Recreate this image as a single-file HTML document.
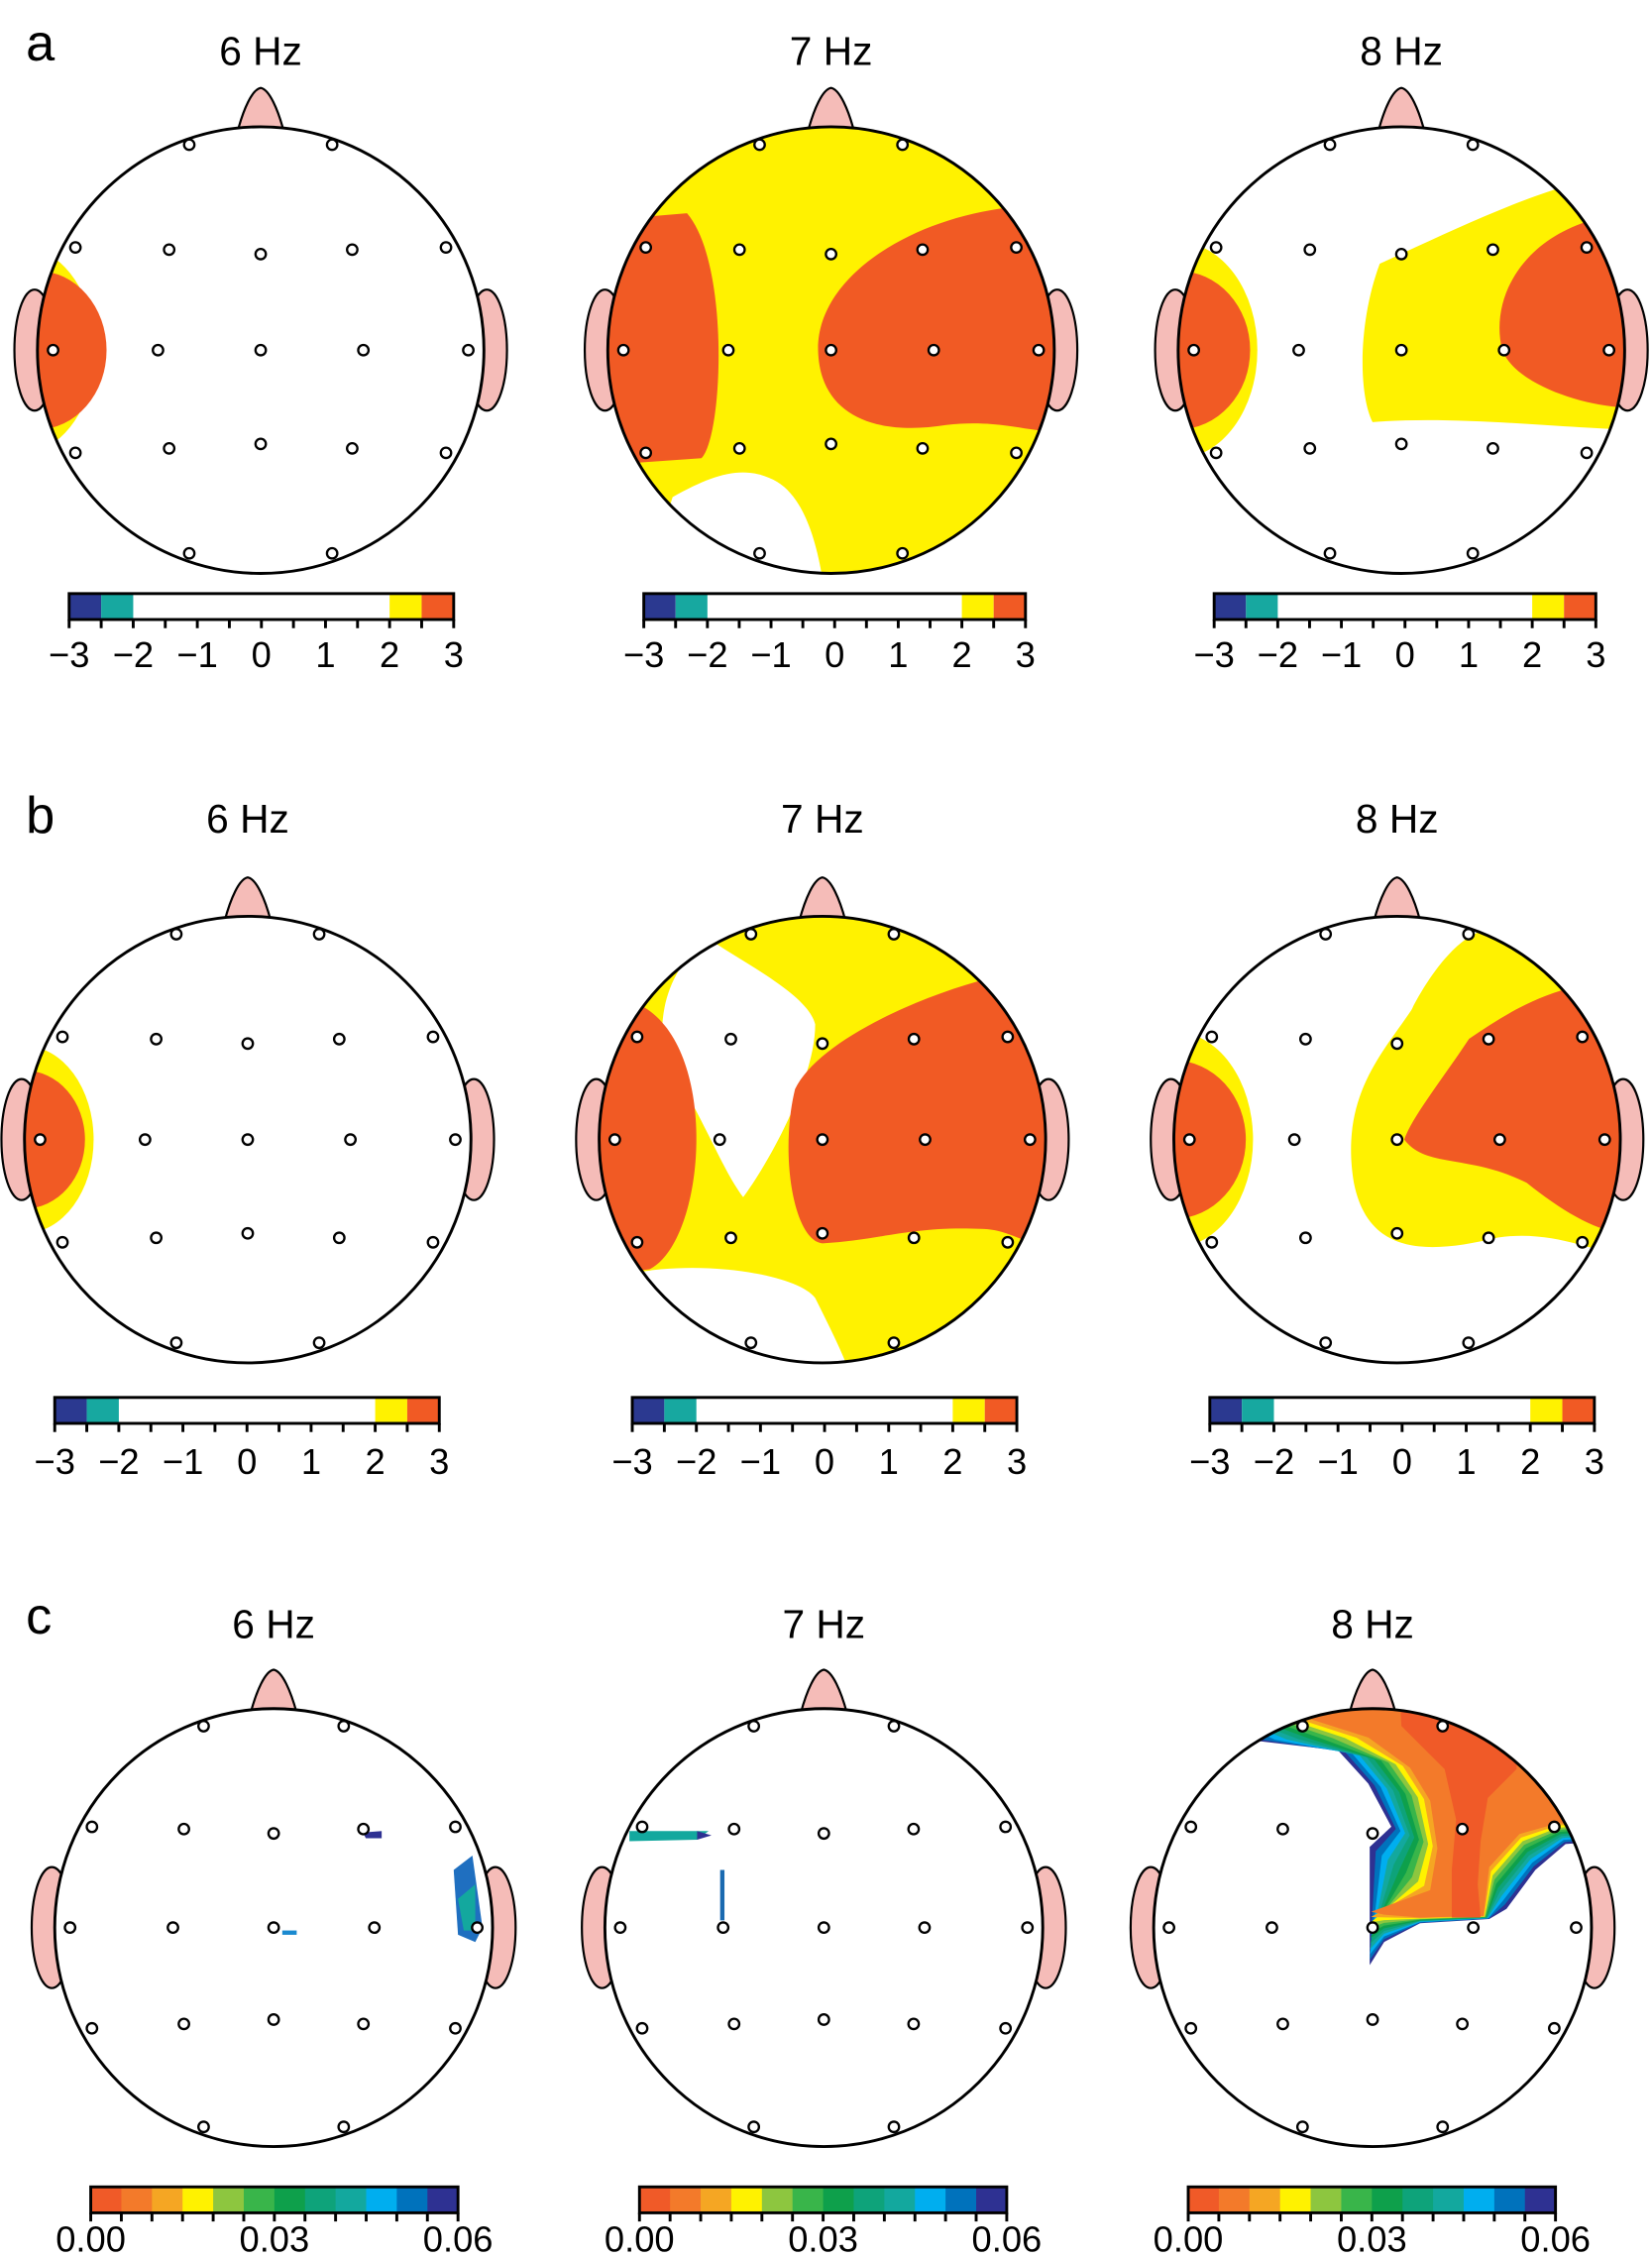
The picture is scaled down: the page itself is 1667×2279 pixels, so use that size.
<!DOCTYPE html>
<html><head><meta charset="utf-8"><style>
html,body{margin:0;padding:0;background:#fff}
svg{display:block}
text{font-family:"Liberation Sans",sans-serif;fill:#000}
</style></head><body>
<svg id="fig" width="1667" height="2279" viewBox="0 0 1147 1568" xmlns="http://www.w3.org/2000/svg">
<g id="layer"></g>
</svg>
<script>
// data
const zTicks = ["\u22123","\u22122","\u22121","0","1","2","3"];
const zColors = ["#2b3990","#17a8a0","#ffffff","#ffffff","#ffffff","#ffffff","#ffffff","#ffffff","#fff200","#f15a24"];
const pTicks = ["0.00","0.03","0.06"];
const pColors = ["#f05a28","#f37a2a","#f5a623","#fff200","#8dc63f","#39b54a","#0ea04b","#0ea37a","#13a89e","#00aeef","#0072bc","#2e3192"];
const freqs = ["6 Hz","7 Hz","8 Hz"];
const elecX = [-0.32,0.32,-0.83,-0.41,0,0.41,0.83,-0.93,-0.46,0,0.46,0.93,-0.83,-0.41,0,0.41,0.83,-0.32,0.32];
const elecY = [-0.92,-0.92,-0.46,-0.45,-0.43,-0.45,-0.46,0,0,0,0,0,0.46,0.44,0.42,0.44,0.46,0.91,0.91];
// 8 Hz p-map region outer (blue) edge and core (orange) edge, matched vertices
const outerEdge = [[-90,-170],[160,-170],[160,-60],[134,-58],[113,-40],[93,-13],[81,-6],[33,-3],[8,10],[-2,26],[-2,-56],[13,-70],[-3,-100],[-24,-123],[-84,-130],[-90,-135]];
const coreEdge  = [[-90,-170],[160,-170],[160,-75],[127,-72],[102,-65],[81,-42],[77,-8],[33,-7],[8,-9],[-1,-11],[40,-26],[45,-55],[40,-88],[26,-111],[-3,-132],[-60,-150]];
const bandColors = ["#2e3192","#0072bc","#00aeef","#13a89e","#0ea37a","#0ea04b","#39b54a","#8dc63f","#fff200","#f5a623","#f37a2a"];

const NS="http://www.w3.org/2000/svg";
const L=document.getElementById('layer');
function mk(tag,at,parent){const e=document.createElementNS(NS,tag);for(const k in at)e.setAttribute(k,at[k]);(parent||L).appendChild(e);return e;}
let cid=0;
const rows=[
 {label:"a",ly:30,ty:35,heads:[[181,243],[577,243],[973,243]],cb:[[48,315],[447,712],[843,1108]],cby:412,tly:463,type:"z"},
 {label:"b",ly:566,ty:568,heads:[[172,791],[571,791],[970,791]],cb:[[38,305],[439,706],[840,1107]],cby:970,tly:1023,type:"z"},
 {label:"c",ly:1122,ty:1127,heads:[[190,1338],[572,1338],[953,1338]],cb:[[63,318],[444,699],[825,1080]],cby:1518,tly:1563,type:"p"}
];
const Y="#fff200",O="#f15a24";
const regions={
 "a0":[[Y,"M-155,-70 A52,72 0 0 1 -155,70 Z"],[O,"M-155,-55 A48,55 0 0 1 -155,55 Z"]],
 "a1":[[Y,"M-160,-160 H160 V160 H-160 Z"],["#fff","M-110,102 C-80,85 -60,80 -40,90 C-20,100 -10,130 -5,165 L-130,165 Z"],
       [O,"M-160,-90 L-100,-95 C-70,-60 -75,60 -90,75 L-160,80 Z"],
       [O,"M160,-100 C80,-105 -10,-60 -9,0 C-8,45 30,60 80,52 C120,47 145,60 160,55 Z"]],
 "a2":[[Y,"M-155,-75 A55,75 0 0 1 -155,75 Z"],[O,"M-155,-55 A50,55 0 0 1 -155,55 Z"],
       [Y,"M160,-120 C120,-125 40,-85 -15,-60 C-30,-20 -30,30 -20,50 C40,45 120,55 160,55 Z"],
       [O,"M160,-95 C90,-90 60,-40 70,0 C80,25 130,40 160,40 Z"]],
 "b0":[[Y,"M-155,-65 A48,65 0 0 1 -155,65 Z"],[O,"M-155,-48 A42,48 0 0 1 -155,48 Z"]],
 "b1":[[Y,"M-160,-160 H160 V160 H-160 Z"],
       ["#fff","M-80,-140 C-50,-120 -10,-100 -5,-80 C-5,-40 -40,20 -55,40 C-70,20 -80,-10 -110,-60 C-115,-90 -105,-120 -80,-140 Z"],
       ["#fff","M-155,100 C-110,80 -20,90 -5,110 C5,130 15,150 20,165 L-160,165 Z"],
       [O,"M-160,-95 L-130,-95 C-70,-70 -80,70 -120,90 L-160,95 Z"],
       [O,"M160,-120 C100,-115 0,-75 -19,-35 C-30,10 -20,70 0,72 C40,70 60,60 110,62 C130,62 145,75 160,75 Z"]],
 "b2":[[Y,"M-155,-75 A55,75 0 0 1 -155,75 Z"],[O,"M-155,-55 A50,55 0 0 1 -155,55 Z"],
       [Y,"M60,-145 C40,-140 20,-110 10,-90 C-10,-60 -40,-30 -30,30 C-20,80 20,80 70,68 C110,62 140,80 160,80 L160,-100 Z"],
       [O,"M160,-110 C110,-110 80,-90 50,-70 C30,-40 10,-15 5,0 C20,20 50,10 90,30 C115,50 140,65 160,65 Z"]],
 "c0":[["#1f6fc0","M125,-40 L138,-50 L145,0 L140,10 L128,5 Z"],["#13a89e","M128,-20 L140,-30 L140,2 L132,2 Z"],["#2e3192","M62,-66 L75,-67 L75,-62 L64,-62 Z"],["#1a8ad0","M6,2 L16,2 L16,5 L6,5 Z"]],
 "c1":[["#13a89e","M-135,-67 L-80,-67 L-88,-61 L-135,-60 Z"],["#2e3192","M-88,-67 L-78,-64 L-88,-61 Z"],["#1a6ab0","M-72,-40 L-69,-40 L-69,-5 L-72,-5 Z"]],
 "c2":[]
};
function bandPath(t){
  return "M"+outerEdge.map((p,i)=>{const q=coreEdge[i];return (p[0]+(q[0]-p[0])*t).toFixed(1)+","+(p[1]+(q[1]-p[1])*t).toFixed(1);}).join(" L")+" Z";
}
rows.forEach((row,ri)=>{
  const lab=mk('text',{x:18,y:row.ly+12,'font-size':36});lab.textContent=row.label;
  
  
  row.heads.forEach((h,hi)=>{
    const [cx,cy]=h; const r=row.type==="p"?152:155;
    const g=mk('g',{transform:`translate(${cx},${cy})`});
    
    
    const t=mk('text',{x:0,y:row.ty-cy+10,'font-size':28,'text-anchor':'middle'},g);t.textContent=freqs[hi];
    
    
    mk('ellipse',{cx:-r-2,cy:0,rx:14,ry:42,fill:'#f5bcb8',stroke:'#000','stroke-width':1.5},g);
    mk('ellipse',{cx:r+2,cy:0,rx:14,ry:42,fill:'#f5bcb8',stroke:'#000','stroke-width':1.5},g);
    mk('path',{d:`M-16,${-r+3} C-12,${-r-12} -6,${-r-26} 0,${-r-27} C6,${-r-26} 12,${-r-12} 16,${-r+3} Z`,fill:'#f5bcb8',stroke:'#000','stroke-width':1.5},g);
    mk('circle',{cx:0,cy:0,r:r,fill:'#fff'},g);
    cid++;
    const cp=mk('clipPath',{id:'c'+cid},g);mk('circle',{cx:0,cy:0,r:r},cp);
    const rg=mk('g',{'clip-path':`url(#c${cid})`},g);
    (regions[row.label+hi]||[]).forEach(([c,d])=>{const p=mk('path',{d:d,fill:c},rg);
      
      });
    if(row.label==="c"&&hi===2){
      const nb=bandColors.length;
      bandColors.forEach((c,k)=>{const p=mk('path',{d:bandPath(k/(nb-1)),fill:c},rg);
        
        });
      const red=mk('path',{d:"M19,-160 L100,-140 L100,-110 L80,-90 L75,-60 L73,-30 L75,-7 L55,-7 L55,-40 L58,-75 L50,-110 L20,-140 Z",fill:'#f05a28'},rg);
      
      
      mk('path',{d:"M-131,108 L-124,108 L-123,115 L-131,114 Z",fill:'#00aeef'},rg);
      mk('path',{d:"M-131,105 L-126,105 L-126,110 Z",fill:'#2e3192'},rg);
    }
    const hc=mk('circle',{cx:0,cy:0,r:r,fill:'none',stroke:'#000','stroke-width':2},g);
    
    
    elecX.forEach((ex,i)=>{const e=mk('circle',{cx:ex*r,cy:elecY[i]*r,r:3.6,fill:'#fff',stroke:'#000','stroke-width':1.6},g);
      
      });
    const [x0,x1]=row.cb[hi]; const y0=row.cby, hgt=18;
    const cb=mk('g',{});
    
    
    const cols=row.type==="p"?pColors:zColors; const n=cols.length; const w=(x1-x0)/(row.type==="p"?n:12);
    if(row.type==="p"){cols.forEach((c,i)=>mk('rect',{x:x0+i*w,y:y0,width:w+0.3,height:hgt,fill:c},cb));}
    else{mk('rect',{x:x0,y:y0,width:x1-x0,height:hgt,fill:'#fff'},cb);
      mk('rect',{x:x0,y:y0,width:w,height:hgt,fill:zColors[0]},cb);
      mk('rect',{x:x0+w,y:y0,width:w,height:hgt,fill:zColors[1]},cb);
      mk('rect',{x:x1-2*w,y:y0,width:w,height:hgt,fill:zColors[8]},cb);
      mk('rect',{x:x1-w,y:y0,width:w,height:hgt,fill:zColors[9]},cb);}
    mk('rect',{x:x0,y:y0,width:x1-x0,height:hgt,fill:'none',stroke:'#000','stroke-width':2},cb);
    const nt=12;
    for(let i=0;i<=nt;i++){const xx=x0+i*(x1-x0)/nt;mk('line',{x1:xx,y1:y0+hgt,x2:xx,y2:y0+hgt+6,stroke:'#000','stroke-width':2},cb);}
    const tl=row.type==="p"?pTicks:zTicks;
    tl.forEach((s,i)=>{const xx=x0+i*(x1-x0)/(tl.length-1);
      const tt=mk('text',{x:xx,y:row.tly,'font-size':25,'text-anchor':'middle'},cb);tt.textContent=s;
      
      });
  });
});
</script>
</body></html>
